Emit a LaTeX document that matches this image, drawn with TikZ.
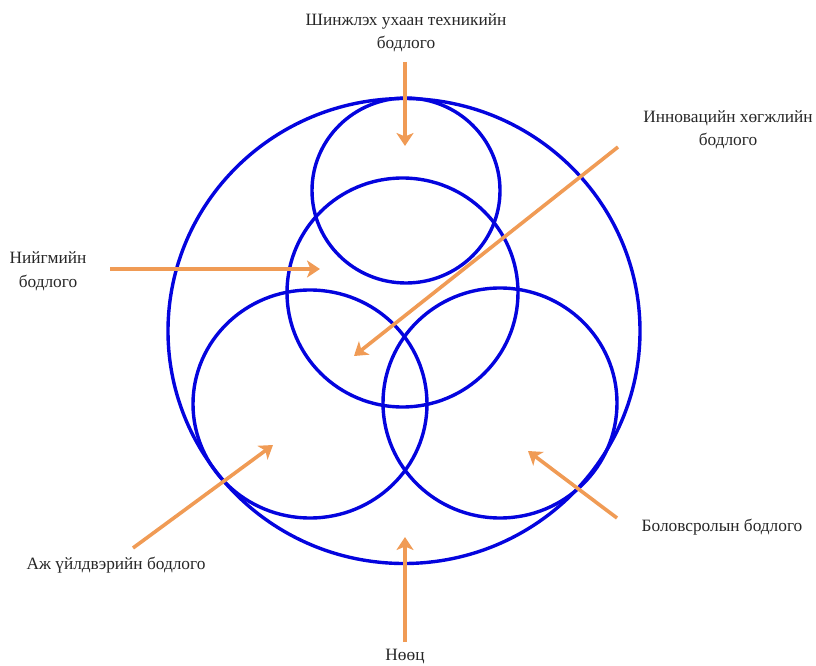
\documentclass[tikz,border=0pt]{standalone}
\usepackage{fontspec}
\setmainfont{Liberation Serif}
\usetikzlibrary{arrows.meta}
\definecolor{ringblue}{RGB}{4,4,222}
\definecolor{pointer}{RGB}{240,155,85}
\begin{document}
\begin{tikzpicture}[x=1pt,y=-1pt,
  ring/.style={draw=ringblue,line width=3.4pt},
  pointer/.style={draw=pointer,line width=3.6pt,
    -{Stealth[length=13pt,width=17pt,inset=3.5pt]}},
  caption/.style={font=\fontsize{17.3}{23.5}\selectfont,text=black!85,align=center,inner sep=0pt}]
\useasboundingbox (0,0) rectangle (816,666);

% policy rings
\draw[ring] (404,331) ellipse [x radius=236,y radius=232.5];
\draw[ring] (406,190.5) ellipse [x radius=94,y radius=92.5];
\draw[ring] (402.5,292.5) ellipse [x radius=115.5,y radius=114.5];
\draw[ring] (310,404) ellipse [x radius=117,y radius=114];
\draw[ring] (500,403) ellipse [x radius=117,y radius=115];

% captions
\node[caption] (sci) at (406,33) {Шинжлэх ухаан техникийн\\бодлого};
\node[caption] (inno) at (728,130) {Инновацийн хөгжлийн\\бодлого};
\node[caption] (soc) at (48,271) {Нийгмийн\\бодлого};
\node[caption] (ind) at (116,565) {Аж үйлдвэрийн бодлого};
\node[caption] (edu) at (722,527) {Боловсролын бодлого};
\node[caption] (res) at (405,657) {Нөөц};

% pointer ends
\coordinate (sciA) at (405,62);   \coordinate (sciB) at (405,146);
\coordinate (innoA) at (618,147); \coordinate (innoB) at (354,356);
\coordinate (socA) at (110,269);  \coordinate (socB) at (320,269);
\coordinate (indA) at (133,548);  \coordinate (indB) at (273,445);
\coordinate (eduA) at (617,518);  \coordinate (eduB) at (528,451);
\coordinate (resA) at (405,642);  \coordinate (resB) at (405,537);

\draw[pointer] (sciA) -- (sciB);
\draw[pointer] (innoA) -- (innoB);
\draw[pointer] (socA) -- (socB);
\draw[pointer] (indA) -- (indB);
\draw[pointer] (eduA) -- (eduB);
\draw[pointer] (resA) -- (resB);
\end{tikzpicture}
\end{document}
